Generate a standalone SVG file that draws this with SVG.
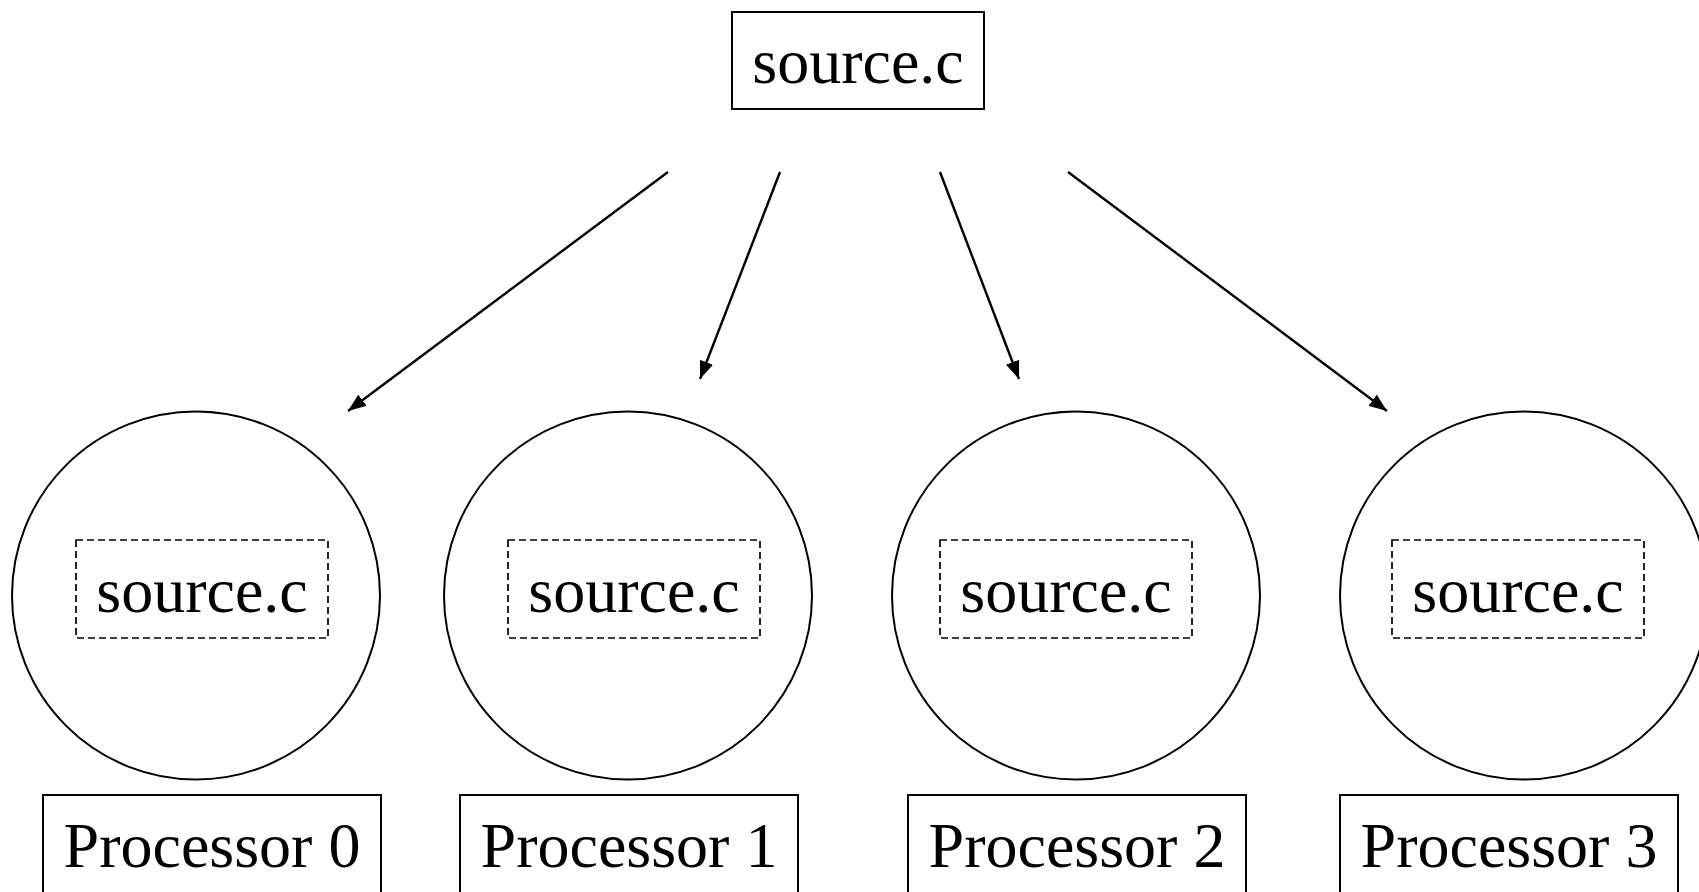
<svg xmlns="http://www.w3.org/2000/svg" width="1699" height="892" viewBox="0 0 1699 892">
<style>
  text { font-family: "Liberation Serif", "Times New Roman", serif; font-size: 64px; fill: #000; text-anchor: middle; }
  .box { fill: #fff; stroke: #000; stroke-width: 2; }
  .circ { fill: none; stroke: #000; stroke-width: 2; }
  .dash { fill: none; stroke: #000; stroke-width: 1.7; stroke-dasharray: 7 4; }
  .conn { stroke: #000; stroke-width: 2.4; fill: none; marker-end: url(#arrow); }
</style>
<defs>
  <marker id="arrow" markerUnits="userSpaceOnUse" markerWidth="18" markerHeight="14" refX="18" refY="7" orient="auto">
    <path d="M0,0 L18,7 L0,14 z" fill="#000"/>
  </marker>
</defs>
<rect width="1699" height="892" fill="#fff"/>
<g id="source">
  <rect class="box" x="732" y="12" width="252" height="97"/>
  <text x="858" y="83">source.c</text>
</g>
<g id="connectors">
  <line class="conn" x1="668" y1="172" x2="348" y2="411"/>
  <line class="conn" x1="780" y1="172" x2="700" y2="379"/>
  <line class="conn" x1="940" y1="172" x2="1019" y2="379"/>
  <line class="conn" x1="1068" y1="172" x2="1387" y2="411"/>
</g>
<g id="node0">
  <circle class="circ" cx="196" cy="595.5" r="184"/>
  <rect class="dash" x="76" y="540" width="252" height="98"/>
  <text x="202" y="612">source.c</text>
</g>
<g id="node1">
  <circle class="circ" cx="628" cy="595.5" r="184"/>
  <rect class="dash" x="508" y="540" width="252" height="98"/>
  <text x="634" y="612">source.c</text>
</g>
<g id="node2">
  <circle class="circ" cx="1076" cy="595.5" r="184"/>
  <rect class="dash" x="940" y="540" width="252" height="98"/>
  <text x="1066" y="612">source.c</text>
</g>
<g id="node3">
  <circle class="circ" cx="1524" cy="595.5" r="184"/>
  <rect class="dash" x="1392" y="540" width="252" height="98"/>
  <text x="1518" y="612">source.c</text>
</g>
<g id="proc0">
  <rect class="box" x="43" y="795" width="338" height="140"/>
  <text x="212" y="867">Processor 0</text>
</g>
<g id="proc1">
  <rect class="box" x="460" y="795" width="338" height="140"/>
  <text x="629" y="867">Processor 1</text>
</g>
<g id="proc2">
  <rect class="box" x="908" y="795" width="338" height="140"/>
  <text x="1077" y="867">Processor 2</text>
</g>
<g id="proc3">
  <rect class="box" x="1340" y="795" width="338" height="140"/>
  <text x="1509" y="867">Processor 3</text>
</g>
</svg>
